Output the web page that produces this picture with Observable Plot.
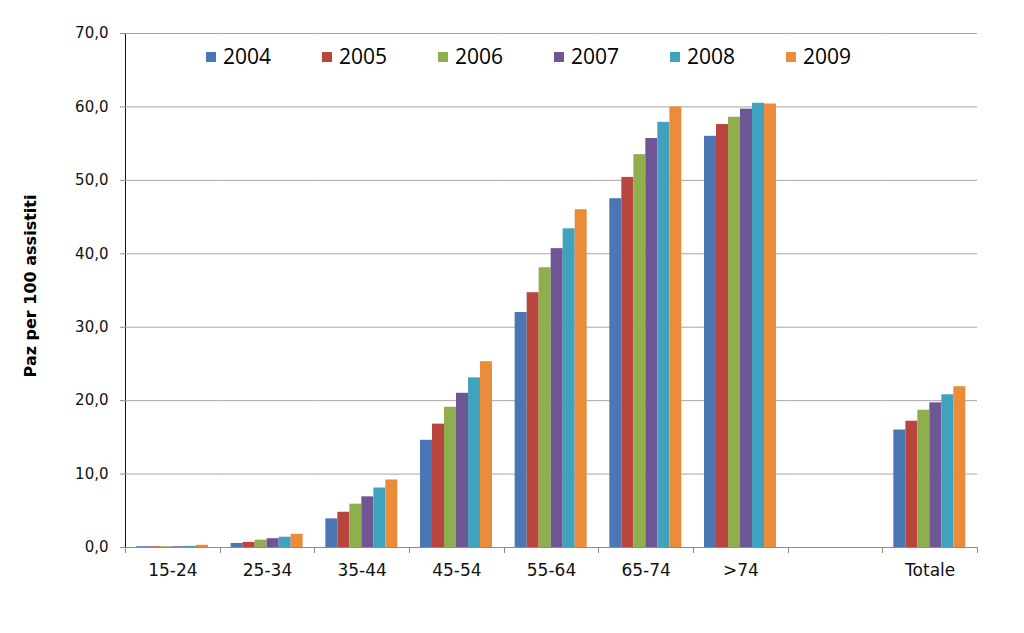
<!DOCTYPE html>
<html>
<head>
<meta charset="utf-8">
<script src="https://cdn.jsdelivr.net/npm/d3@7"></script>
<script src="https://cdn.jsdelivr.net/npm/@observablehq/plot@0.6"></script>
<style>
  body { margin: 0; background: #fff; }
  #wrap { position: relative; width: 1024px; height: 633px; overflow: hidden; }
  #legend { position: absolute; left: 206px; top: 42px; font-family: "Open Sans", "Liberation Sans", sans-serif; font-size: 21px; color: #000; white-space: nowrap; }
  #legend .item { display: inline-block; width: 116px; }
  #legend .sw { display: inline-block; width: 10px; height: 10px; margin-right: 7px; vertical-align: 2px; }
  svg [aria-label^="fx-axis"] text { font-size: 17px; }
</style>
</head>
<body>
<div id="wrap"><div id="chart"></div><div id="legend"></div></div>
<script>
const categories = ["15-24", "25-34", "35-44", "45-54", "55-64", "65-74", ">74", " ", "Totale"];
const years = ["2004", "2005", "2006", "2007", "2008", "2009"];
const colors = ["#4A76B3", "#B8463F", "#8FAE4E", "#6E5694", "#3FA3BE", "#EB8C3B"];
const v2004 = [0.1, 0.55, 3.9, 14.6, 32.0, 47.5, 56.0, null, 16.0];
const v2005 = [0.1, 0.7, 4.8, 16.8, 34.7, 50.4, 57.6, null, 17.2];
const v2006 = [0.1, 1.0, 5.9, 19.1, 38.1, 53.5, 58.6, null, 18.7];
const v2007 = [0.1, 1.2, 6.9, 21.0, 40.7, 55.7, 59.7, null, 19.7];
const v2008 = [0.15, 1.4, 8.1, 23.1, 43.4, 57.9, 60.5, null, 20.8];
const v2009 = [0.3, 1.8, 9.2, 25.3, 46.0, 60.0, 60.4, null, 21.9];
const yTicks = [0, 10, 20, 30, 40, 50, 60, 70];
const yLabel = "Paz per 100 assistiti";

const series = [v2004, v2005, v2006, v2007, v2008, v2009];
const rows = [];
series.forEach((vals, i) => {
  vals.forEach((v, j) => {
    rows.push({cat: categories[j], year: years[i], value: v});
  });
});

const fmt = d => d.toFixed(1).replace(".", ",");

const plot = Plot.plot({
  width: 1024,
  height: 633,
  marginLeft: 125,
  marginRight: 47,
  marginTop: 33,
  marginBottom: 86,
  style: {fontFamily: "DejaVu Sans, Verdana, sans-serif", fontSize: "15px", color: "#111", background: "#fff"},
  facet: {data: rows, x: "cat", marginTop: 0, marginBottom: 0},
  fx: {domain: categories, padding: 0, round: false, axis: "bottom", tickSize: 0, tickPadding: 16, label: null},
  x: {domain: years, paddingInner: 0, paddingOuter: 0.78, axis: null},
  y: {domain: [0, 70], ticks: yTicks, tickFormat: fmt, tickSize: 5, tickPadding: 12, line: true, label: null},
  color: {domain: years, range: colors},
  marks: [
    Plot.ruleY(yTicks.filter(d => d > 0), {stroke: "#a6a6a6", strokeWidth: 1}),
    Plot.barY(rows, {x: "year", y: "value", fill: "year", filter: d => d.value != null}),
    Plot.ruleY([0], {stroke: "#8c8c8c", strokeWidth: 1})
  ]
});

d3.select(plot).selectAll('[aria-label^="y-axis"] path, [aria-label^="y-axis"] line').attr("stroke", "#8c8c8c");

const fx = plot.scale("fx");
const yS = plot.scale("y");
const y0 = yS.apply(0);
const bounds = categories.map(c => fx.apply(c));
bounds.push(fx.apply(categories[categories.length - 1]) + fx.bandwidth);
const svg = d3.select(plot);
svg.append("g").selectAll("line").data(bounds).join("line")
  .attr("x1", d => Math.round(d) + 0.5).attr("x2", d => Math.round(d) + 0.5)
  .attr("y1", y0).attr("y2", y0 + 6)
  .attr("stroke", "#8c8c8c");

svg.append("text")
  .attr("transform", `translate(36,${(yS.apply(0) + yS.apply(70)) / 2 - 4}) rotate(-90)`)
  .attr("text-anchor", "middle")
  .attr("font-family", "DejaVu Sans, Verdana, sans-serif")
  .attr("font-weight", "bold")
  .attr("font-size", 16)
  .attr("fill", "#000")
  .text(yLabel);

document.getElementById("chart").appendChild(plot);

const legend = document.getElementById("legend");
years.forEach((y, i) => {
  const item = document.createElement("span");
  item.className = "item";
  item.innerHTML = `<span class="sw" style="background:${colors[i]}"></span>${y}`;
  legend.appendChild(item);
});
</script>
</body>
</html>
